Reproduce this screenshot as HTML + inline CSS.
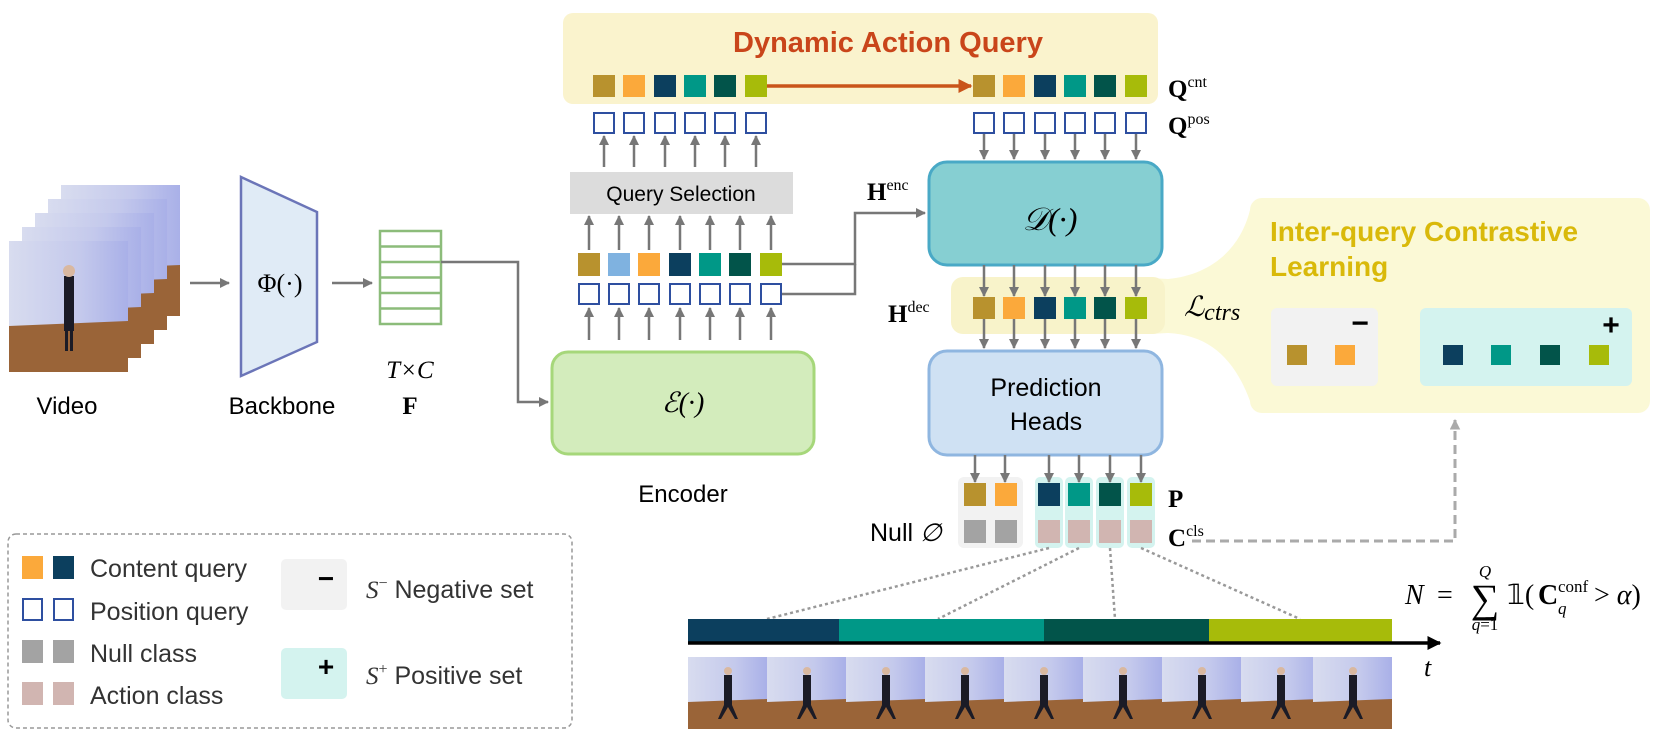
<!DOCTYPE html>
<html><head><meta charset="utf-8"><style>
html,body{margin:0;padding:0;background:#fff}
svg{display:block}
text{font-family:"Liberation Sans",sans-serif}
.s{font-family:"Liberation Serif",serif}
</style></head><body>
<svg width="1661" height="740" viewBox="0 0 1661 740" xmlns="http://www.w3.org/2000/svg">
<defs>
<marker id="ag" viewBox="0 0 10 10" refX="9" refY="5" markerWidth="4" markerHeight="4" orient="auto"><path d="M0,0L10,5L0,10z" fill="#777"/></marker>
<marker id="ao" viewBox="0 0 10 10" refX="9" refY="5" markerWidth="4" markerHeight="4" orient="auto"><path d="M0,0L10,5L0,10z" fill="#c9541a"/></marker>
<marker id="ak" viewBox="0 0 10 10" refX="9" refY="5" markerWidth="4" markerHeight="4" orient="auto"><path d="M0,0L10,5L0,10z" fill="#000"/></marker>
<marker id="al" viewBox="0 0 10 10" refX="9" refY="5" markerWidth="3.5" markerHeight="3.5" orient="auto"><path d="M0,0L10,5L0,10z" fill="#aaa"/></marker>
<linearGradient id="wall" x1="0" y1="0" x2="1" y2="0"><stop offset="0" stop-color="#d8dcef"/><stop offset="0.6" stop-color="#c4c9ec"/><stop offset="1" stop-color="#a9b0e8"/></linearGradient>
<g id="fr">
<rect x="0" y="0" width="119" height="131" fill="url(#wall)"/>
<polygon points="0,85 119,80 119,131 0,131" fill="#9a6438"/>
<rect x="55" y="35" width="10" height="55" fill="#1b1b26"/>
<circle cx="60" cy="30" r="6" fill="#d9b8a0"/>
<rect x="56" y="90" width="3" height="20" fill="#1b1b26"/><rect x="61" y="90" width="3" height="20" fill="#1b1b26"/>
</g>
<g id="sf">
<rect x="0" y="0" width="79" height="72" fill="url(#wall)"/>
<polygon points="0,45 79,42 79,72 0,72" fill="#9a6438"/>
<rect x="36" y="18" width="8" height="30" fill="#1b1b26"/>
<circle cx="40" cy="14" r="4" fill="#d9b8a0"/>
<polygon points="36,48 30,62 33,62 40,50 47,62 50,62 44,48" fill="#1b1b26"/>
</g>
</defs>

<!-- video frames -->
<use href="#fr" x="61" y="185"/>
<use href="#fr" x="48" y="199"/>
<use href="#fr" x="35" y="213"/>
<use href="#fr" x="22" y="227"/>
<use href="#fr" x="9" y="241"/>
<text x="67" y="414" font-size="24" text-anchor="middle">Video</text>
<line x1="190" y1="283" x2="229" y2="283" stroke="#777" stroke-width="2.5" marker-end="url(#ag)"/>
<polygon points="241,177 317,212 317,342 241,376" fill="#e0ebf6" stroke="#6b75b8" stroke-width="2.5"/>
<text x="280" y="292" font-size="26" text-anchor="middle" class="s">Φ(·)</text>
<text x="282" y="414" font-size="24" text-anchor="middle">Backbone</text>
<line x1="332" y1="283" x2="372" y2="283" stroke="#777" stroke-width="2.5" marker-end="url(#ag)"/>
<g fill="none" stroke="#8cbc7a" stroke-width="2.5">
<rect x="380" y="231" width="61" height="93"/>
<line x1="380" y1="246.5" x2="441" y2="246.5"/><line x1="380" y1="262" x2="441" y2="262"/><line x1="380" y1="277.5" x2="441" y2="277.5"/><line x1="380" y1="293" x2="441" y2="293"/><line x1="380" y1="308.5" x2="441" y2="308.5"/>
</g>
<text x="410" y="378" font-size="25" text-anchor="middle" class="s" font-style="italic">T×C</text>
<text x="410" y="414" font-size="25" text-anchor="middle" class="s" font-weight="bold">F</text>
<polyline points="441,262 518,262 518,402 548,402" fill="none" stroke="#777" stroke-width="2.5" marker-end="url(#ag)"/>

<!-- encoder -->
<rect x="552" y="352" width="262" height="102" rx="16" fill="#d3ecbc" stroke="#a6d77a" stroke-width="3"/>
<text x="683" y="412" font-size="28" text-anchor="middle" class="s" font-style="italic">ℰ(·)</text>
<text x="683" y="502" font-size="24" text-anchor="middle">Encoder</text>
<rect x="570" y="172" width="223" height="42" fill="#dcdcdc"/>
<text x="681" y="201" font-size="21" text-anchor="middle">Query Selection</text>

<g stroke="#777" stroke-width="2.5" marker-end="url(#ag)">
<line x1="589" y1="340" x2="589" y2="308"/><line x1="619" y1="340" x2="619" y2="308"/><line x1="649" y1="340" x2="649" y2="308"/><line x1="680" y1="340" x2="680" y2="308"/><line x1="710" y1="340" x2="710" y2="308"/><line x1="740" y1="340" x2="740" y2="308"/><line x1="771" y1="340" x2="771" y2="308"/>
<line x1="589" y1="250" x2="589" y2="216"/><line x1="619" y1="250" x2="619" y2="216"/><line x1="649" y1="250" x2="649" y2="216"/><line x1="680" y1="250" x2="680" y2="216"/><line x1="710" y1="250" x2="710" y2="216"/><line x1="740" y1="250" x2="740" y2="216"/><line x1="771" y1="250" x2="771" y2="216"/>
<line x1="604" y1="167" x2="604" y2="136"/><line x1="634" y1="167" x2="634" y2="136"/><line x1="665" y1="167" x2="665" y2="136"/><line x1="695" y1="167" x2="695" y2="136"/><line x1="725" y1="167" x2="725" y2="136"/><line x1="756" y1="167" x2="756" y2="136"/>
</g>
<g>
<rect x="578" y="253" width="22" height="23" fill="#b8922e"/><rect x="608" y="253" width="22" height="23" fill="#7fb2e0"/><rect x="638" y="253" width="22" height="23" fill="#fba93b"/><rect x="669" y="253" width="22" height="23" fill="#0c3f5e"/><rect x="699" y="253" width="22" height="23" fill="#009887"/><rect x="729" y="253" width="22" height="23" fill="#02544a"/><rect x="760" y="253" width="22" height="23" fill="#a7bb0a"/>
</g>
<g fill="#fff" stroke="#2e4fa0" stroke-width="2">
<rect x="579" y="284" width="20" height="20"/><rect x="609" y="284" width="20" height="20"/><rect x="639" y="284" width="20" height="20"/><rect x="670" y="284" width="20" height="20"/><rect x="700" y="284" width="20" height="20"/><rect x="730" y="284" width="20" height="20"/><rect x="761" y="284" width="20" height="20"/>
</g>
<polyline points="782,264 855,264 855,213 925,213" fill="none" stroke="#777" stroke-width="2.5" marker-end="url(#ag)"/>
<polyline points="782,294 855,294 855,264" fill="none" stroke="#777" stroke-width="2.5"/>
<text x="867" y="200" font-size="25" class="s" font-weight="bold">H<tspan font-size="16" font-weight="normal" dy="-10">enc</tspan></text>

<!-- dynamic action query -->
<rect x="563" y="13" width="595" height="91" rx="10" fill="#faf3cd"/>
<text x="888" y="52" font-size="29" font-weight="bold" fill="#c9451a" text-anchor="middle">Dynamic Action Query</text>
<g>
<rect x="593" y="75" width="22" height="22" fill="#b8922e"/><rect x="623" y="75" width="22" height="22" fill="#fba93b"/><rect x="654" y="75" width="22" height="22" fill="#0c3f5e"/><rect x="684" y="75" width="22" height="22" fill="#009887"/><rect x="714" y="75" width="22" height="22" fill="#02544a"/><rect x="745" y="75" width="22" height="22" fill="#a7bb0a"/>
<rect x="973" y="75" width="22" height="22" fill="#b8922e"/><rect x="1003" y="75" width="22" height="22" fill="#fba93b"/><rect x="1034" y="75" width="22" height="22" fill="#0c3f5e"/><rect x="1064" y="75" width="22" height="22" fill="#009887"/><rect x="1094" y="75" width="22" height="22" fill="#02544a"/><rect x="1125" y="75" width="22" height="22" fill="#a7bb0a"/>
</g>
<line x1="767" y1="86" x2="971" y2="86" stroke="#c9541a" stroke-width="3.5" marker-end="url(#ao)"/>
<g fill="#fff" stroke="#2e4fa0" stroke-width="2">
<rect x="594" y="113" width="20" height="20"/><rect x="624" y="113" width="20" height="20"/><rect x="655" y="113" width="20" height="20"/><rect x="685" y="113" width="20" height="20"/><rect x="715" y="113" width="20" height="20"/><rect x="746" y="113" width="20" height="20"/>
<rect x="974" y="113" width="20" height="20"/><rect x="1004" y="113" width="20" height="20"/><rect x="1035" y="113" width="20" height="20"/><rect x="1065" y="113" width="20" height="20"/><rect x="1095" y="113" width="20" height="20"/><rect x="1126" y="113" width="20" height="20"/>
</g>
<text x="1168" y="97" font-size="25" class="s" font-weight="bold">Q<tspan font-size="16" font-weight="normal" dy="-10">cnt</tspan></text>
<text x="1168" y="134" font-size="25" class="s" font-weight="bold">Q<tspan font-size="16" font-weight="normal" dy="-10">pos</tspan></text>

<g stroke="#777" stroke-width="2.5" marker-end="url(#ag)">
<line x1="984" y1="134" x2="984" y2="159"/><line x1="1014" y1="134" x2="1014" y2="159"/><line x1="1045" y1="134" x2="1045" y2="159"/><line x1="1075" y1="134" x2="1075" y2="159"/><line x1="1105" y1="134" x2="1105" y2="159"/><line x1="1136" y1="134" x2="1136" y2="159"/>
</g>

<!-- decoder -->
<rect x="929" y="162" width="233" height="103" rx="18" fill="#86cfd2" stroke="#49a9c6" stroke-width="3"/>
<text x="1050" y="230" font-size="32" text-anchor="middle" class="s" font-style="italic">𝒟(·)</text>

<!-- bubble -->
<path d="M1262,198 H1638 A12,12 0 0 1 1650,210 V401 A12,12 0 0 1 1638,413 H1262 A12,12 0 0 1 1250,401 C1235,360 1210,335 1168,333 L1150,334 L1150,278 L1168,279 C1210,275 1240,250 1250,210 A12,12 0 0 1 1262,198 Z" fill="#fbf9d6"/>
<rect x="951" y="277" width="214" height="57" rx="12" fill="#f8f3ca"/>
<text x="1270" y="241" font-size="28" font-weight="bold" fill="#d9b90a">Inter-query Contrastive</text>
<text x="1270" y="276" font-size="28" font-weight="bold" fill="#d9b90a">Learning</text>
<text x="1184" y="316" font-size="28" class="s" font-style="italic">ℒ<tspan font-size="24" dy="4">ctrs</tspan></text>
<rect x="1271" y="308" width="107" height="78" rx="6" fill="#f2f2f2"/>
<text x="1360" y="333" font-size="30" font-weight="bold" text-anchor="middle">−</text>
<rect x="1287" y="345" width="20" height="20" fill="#b8922e"/><rect x="1335" y="345" width="20" height="20" fill="#fba93b"/>
<rect x="1420" y="308" width="212" height="78" rx="6" fill="#d4f3ef"/>
<text x="1611" y="335" font-size="30" font-weight="bold" text-anchor="middle">+</text>
<rect x="1443" y="345" width="20" height="20" fill="#0c3f5e"/><rect x="1491" y="345" width="20" height="20" fill="#009887"/><rect x="1540" y="345" width="20" height="20" fill="#02544a"/><rect x="1589" y="345" width="20" height="20" fill="#a7bb0a"/>

<text x="888" y="322" font-size="25" class="s" font-weight="bold">H<tspan font-size="16" font-weight="normal" dy="-10">dec</tspan></text>
<g>
<rect x="973" y="297" width="22" height="22" fill="#b8922e"/><rect x="1003" y="297" width="22" height="22" fill="#fba93b"/><rect x="1034" y="297" width="22" height="22" fill="#0c3f5e"/><rect x="1064" y="297" width="22" height="22" fill="#009887"/><rect x="1094" y="297" width="22" height="22" fill="#02544a"/><rect x="1125" y="297" width="22" height="22" fill="#a7bb0a"/>
</g>
<g stroke="#777" stroke-width="2.5" marker-end="url(#ag)">
<line x1="984" y1="265" x2="984" y2="296"/><line x1="1014" y1="265" x2="1014" y2="296"/><line x1="1045" y1="265" x2="1045" y2="296"/><line x1="1075" y1="265" x2="1075" y2="296"/><line x1="1105" y1="265" x2="1105" y2="296"/><line x1="1136" y1="265" x2="1136" y2="296"/>
<line x1="984" y1="319" x2="984" y2="348"/><line x1="1014" y1="319" x2="1014" y2="348"/><line x1="1045" y1="319" x2="1045" y2="348"/><line x1="1075" y1="319" x2="1075" y2="348"/><line x1="1105" y1="319" x2="1105" y2="348"/><line x1="1136" y1="319" x2="1136" y2="348"/>
</g>

<!-- prediction heads -->
<rect x="929" y="351" width="233" height="104" rx="18" fill="#cfe1f3" stroke="#8fb6e0" stroke-width="3"/>
<text x="1046" y="396" font-size="25" text-anchor="middle">Prediction</text>
<text x="1046" y="430" font-size="25" text-anchor="middle">Heads</text>

<rect x="958" y="477" width="65" height="71" rx="6" fill="#f2f2f2"/>
<rect x="1035" y="477" width="28" height="71" rx="5" fill="#d4f3ef"/><rect x="1065" y="477" width="28" height="71" rx="5" fill="#d4f3ef"/><rect x="1096" y="477" width="28" height="71" rx="5" fill="#d4f3ef"/><rect x="1127" y="477" width="28" height="71" rx="5" fill="#d4f3ef"/>
<g stroke="#777" stroke-width="2.5" marker-end="url(#ag)">
<line x1="975" y1="455" x2="975" y2="482"/><line x1="1005" y1="455" x2="1005" y2="482"/><line x1="1049" y1="455" x2="1049" y2="482"/><line x1="1079" y1="455" x2="1079" y2="482"/><line x1="1110" y1="455" x2="1110" y2="482"/><line x1="1141" y1="455" x2="1141" y2="482"/>
</g>
<rect x="964" y="483" width="22" height="23" fill="#b8922e"/><rect x="995" y="483" width="22" height="23" fill="#fba93b"/>
<rect x="1038" y="483" width="22" height="23" fill="#0c3f5e"/><rect x="1068" y="483" width="22" height="23" fill="#009887"/><rect x="1099" y="483" width="22" height="23" fill="#02544a"/><rect x="1130" y="483" width="22" height="23" fill="#a7bb0a"/>
<rect x="964" y="520" width="22" height="23" fill="#a3a3a3"/><rect x="995" y="520" width="22" height="23" fill="#a3a3a3"/>
<rect x="1038" y="520" width="22" height="23" fill="#d1b5b1"/><rect x="1068" y="520" width="22" height="23" fill="#d1b5b1"/><rect x="1099" y="520" width="22" height="23" fill="#d1b5b1"/><rect x="1130" y="520" width="22" height="23" fill="#d1b5b1"/>
<text x="870" y="541" font-size="25">Null <tspan class="s" font-style="italic">∅</tspan></text>
<text x="1168" y="507" font-size="25" class="s" font-weight="bold">P</text>
<text x="1168" y="546" font-size="25" class="s" font-weight="bold">C<tspan font-size="16" font-weight="normal" dy="-10">cls</tspan></text>
<polyline points="1192,541 1455,541 1455,420" fill="none" stroke="#aaa" stroke-width="3" stroke-dasharray="9,5" marker-end="url(#al)"/>

<!-- dotted lines -->
<g stroke="#999" stroke-width="2.5" stroke-dasharray="3,3">
<line x1="1049" y1="548" x2="767" y2="619"/><line x1="1079" y1="548" x2="938" y2="619"/><line x1="1110" y1="548" x2="1115" y2="619"/><line x1="1141" y1="548" x2="1300" y2="619"/>
</g>
<!-- timeline -->
<rect x="688" y="619" width="151" height="23" fill="#0c3f5e"/>
<rect x="839" y="619" width="205" height="23" fill="#009887"/>
<rect x="1044" y="619" width="165" height="23" fill="#02544a"/>
<rect x="1209" y="619" width="183" height="23" fill="#a7bb0a"/>
<line x1="688" y1="643" x2="1440" y2="643" stroke="#000" stroke-width="3.5" marker-end="url(#ak)"/>
<text x="1424" y="676" font-size="26" class="s" font-style="italic">t</text>
<use href="#sf" x="688" y="657"/><use href="#sf" x="767" y="657"/><use href="#sf" x="846" y="657"/><use href="#sf" x="925" y="657"/><use href="#sf" x="1004" y="657"/><use href="#sf" x="1083" y="657"/><use href="#sf" x="1162" y="657"/><use href="#sf" x="1241" y="657"/><use href="#sf" x="1313" y="657"/>

<!-- formula -->
<text x="1405" y="604" font-size="28" font-style="italic" class="s">N</text>
<text x="1437" y="604" font-size="28" class="s">=</text>
<text x="1485" y="612" font-size="40" class="s" text-anchor="middle">∑</text>
<text x="1485" y="577" font-size="17" class="s" font-style="italic" text-anchor="middle">Q</text>
<text x="1485" y="630" font-size="17" class="s" text-anchor="middle"><tspan font-style="italic">q</tspan>=1</text>
<text x="1507" y="604" font-size="28" class="s">𝟙(</text>
<text x="1538" y="604" font-size="28" class="s" font-weight="bold">C</text>
<text x="1558" y="592" font-size="17" class="s">conf</text>
<text x="1558" y="614" font-size="17" class="s" font-style="italic">q</text>
<text x="1594" y="604" font-size="28" class="s">&gt; <tspan font-style="italic">α</tspan>)</text>

<!-- legend -->
<rect x="8" y="534" width="564" height="194" rx="8" fill="none" stroke="#999" stroke-width="1.5" stroke-dasharray="4,3"/>
<rect x="22" y="556" width="21" height="23" fill="#fba93b"/><rect x="53" y="556" width="21" height="23" fill="#0c3f5e"/>
<rect x="23" y="599" width="19" height="21" fill="#fff" stroke="#2e4fa0" stroke-width="2"/><rect x="54" y="599" width="19" height="21" fill="#fff" stroke="#2e4fa0" stroke-width="2"/>
<rect x="22" y="640" width="21" height="23" fill="#a3a3a3"/><rect x="53" y="640" width="21" height="23" fill="#a3a3a3"/>
<rect x="22" y="682" width="21" height="23" fill="#d1b5b1"/><rect x="53" y="682" width="21" height="23" fill="#d1b5b1"/>
<g font-size="25" fill="#333">
<text x="90" y="577">Content query</text>
<text x="90" y="620">Position query</text>
<text x="90" y="662">Null class</text>
<text x="90" y="704">Action class</text>
</g>
<rect x="281" y="559" width="66" height="51" rx="5" fill="#f2f2f2"/>
<text x="326" y="588" font-size="28" font-weight="bold" text-anchor="middle">−</text>
<rect x="281" y="648" width="66" height="51" rx="5" fill="#d4f3ef"/>
<text x="326" y="676" font-size="28" font-weight="bold" text-anchor="middle">+</text>
<text x="366" y="598" font-size="25" fill="#333"><tspan class="s" font-style="italic">S</tspan><tspan class="s" font-size="16" dy="-10">−</tspan><tspan dy="10"> Negative set</tspan></text>
<text x="366" y="684" font-size="25" fill="#333"><tspan class="s" font-style="italic">S</tspan><tspan class="s" font-size="16" dy="-10">+</tspan><tspan dy="10"> Positive set</tspan></text>
</svg>
</body></html>
